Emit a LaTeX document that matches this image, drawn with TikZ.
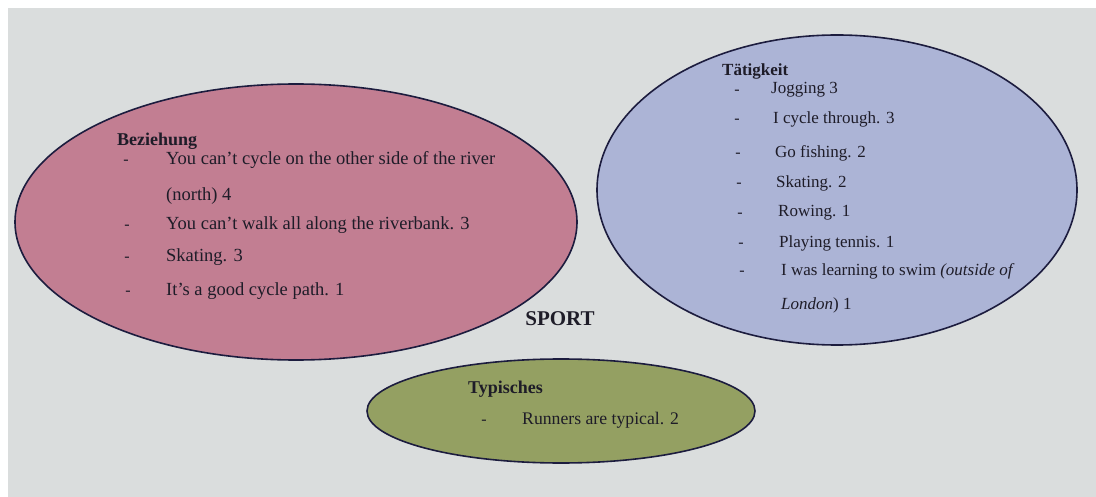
\documentclass[tikz,border=0pt]{standalone}
\usepackage{fontspec}
\setmainfont{Liberation Serif}
\usetikzlibrary{shapes.geometric}
\definecolor{pagebg}{RGB}{218,221,221}
\definecolor{pinkfill}{RGB}{194,126,146}
\definecolor{bluefill}{RGB}{172,180,214}
\definecolor{greenfill}{RGB}{148,160,98}
\definecolor{rimcol}{RGB}{28,28,62}
\definecolor{inkcol}{RGB}{30,28,40}
\tikzset{
  blob/.style={ellipse, draw=rimcol, line width=1.6pt, inner sep=0pt},
  itemtext/.style={anchor=west, inner sep=0pt, text=inkcol},
  bezfont/.style={font=\fontsize{18.5}{20}\selectfont},
  tatfont/.style={font=\fontsize{17}{19}\selectfont},
  typfont/.style={font=\fontsize{17.7}{19}\selectfont},
  headtext/.style={anchor=west, inner sep=0pt, text=inkcol, font=\fontsize{18}{20}\selectfont\bfseries},
  dashmark/.style={anchor=center, inner sep=0pt, text=inkcol, font=\fontsize{16}{18}\selectfont}
}
\begin{document}
\begin{tikzpicture}[x=1pt,y=-1pt]
\useasboundingbox (0,0) rectangle (1096,497);
\fill[white] (0,0) rectangle (1096,497);
\fill[pagebg] (8,8) rectangle (1096,497);
% ellipses
\node[blob, fill=pinkfill, minimum width=562pt, minimum height=276pt] (bez) at (296,222) {};
\node[blob, fill=bluefill, minimum width=480pt, minimum height=310pt] (tat) at (837,190) {};
\node[blob, fill=greenfill, minimum width=388pt, minimum height=104pt] (typ) at (561,411) {};
% Beziehung
\node[headtext] (bh) at (117,141) {Beziehung};
\node[dashmark] (bd1) at (126,162) {-};
\node[itemtext, bezfont] (b1) at (166,160) {You can't cycle on the other side of the river};
\node[itemtext, bezfont] (b1b) at (166,196) {(north) 4};
\node[dashmark] (bd2) at (127,227) {-};
\node[itemtext, bezfont] (b2) at (166,225) {You can't walk all along the riverbank. 3};
\node[dashmark] (bd3) at (127,259) {-};
\node[itemtext, bezfont] (b3) at (166,257) {Skating. 3};
\node[dashmark] (bd4) at (128,293) {-};
\node[itemtext, bezfont] (b4) at (166,291) {It's a good cycle path. 1};
% Tätigkeit
\node[headtext, font=\fontsize{17}{19}\selectfont\bfseries] (th) at (722,71) {Tätigkeit};
\node[dashmark] (td1) at (737,92) {-};
\node[itemtext, tatfont] (t1) at (771,90) {Jogging 3};
\node[dashmark] (td2) at (737,121) {-};
\node[itemtext, tatfont] (t2) at (773,119) {I cycle through. 3};
\node[dashmark] (td3) at (738,155) {-};
\node[itemtext, tatfont] (t3) at (775,153) {Go fishing. 2};
\node[dashmark] (td4) at (739,185) {-};
\node[itemtext, tatfont] (t4) at (776,183) {Skating. 2};
\node[dashmark] (td5) at (740,215) {-};
\node[itemtext, tatfont] (t5) at (778,213) {Rowing. 1};
\node[dashmark] (td6) at (741,245) {-};
\node[itemtext, tatfont] (t6) at (779,243) {Playing tennis. 1};
\node[dashmark] (td7) at (742,273) {-};
\node[itemtext, tatfont] (t7) at (781,271) {I was learning to swim \textit{(outside of}};
\node[itemtext, tatfont] (t7b) at (781,305) {\textit{London}) 1};
% SPORT
\node[anchor=center, inner sep=0pt, text=inkcol, font=\fontsize{21}{23}\selectfont\bfseries] (sport) at (560,319) {SPORT};
% Typisches
\node[headtext] (yh) at (468,389) {Typisches};
\node[dashmark] (yd1) at (484,422) {-};
\node[itemtext, typfont] (y1) at (522,420) {Runners are typical. 2};
\end{tikzpicture}
\end{document}
